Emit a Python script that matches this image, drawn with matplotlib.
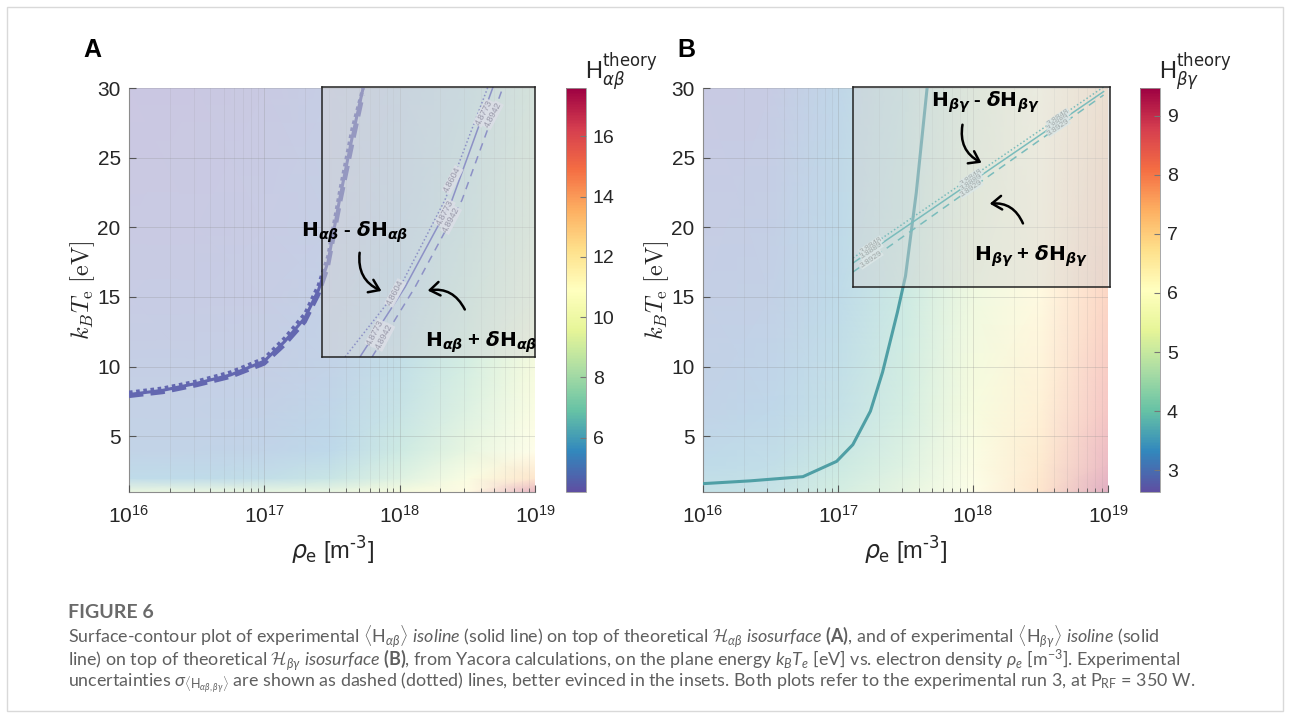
import numpy as np
import matplotlib
matplotlib.use('Agg')
import matplotlib.pyplot as plt
from matplotlib.colors import Normalize, ListedColormap
from matplotlib.cm import ScalarMappable
from matplotlib.patches import Rectangle, FancyArrowPatch

plt.rcParams['font.family'] = ['Liberation Sans', 'DejaVu Sans']
plt.rcParams['mathtext.rm'] = 'Lato'
plt.rcParams['mathtext.it'] = 'Lato:italic'
plt.rcParams['mathtext.bf'] = 'Lato:bold'
plt.rcParams['mathtext.cal'] = 'cmsy10'

# ---------------- data ----------------
# theoretical surfaces on a coarse grid: columns = log10(rho_e), rows = k_B T_e [eV]
log_ne = [16.0, 16.5, 17.0, 17.5, 18.0, 18.5, 19.0]

te_a = [1, 2, 4, 7, 10, 15, 20, 30]
h_ab = [
    [8.8, 8.6, 8.5, 8.6, 9.5, 11.5, 17.0],
    [5.7, 5.7, 5.9, 6.4, 7.9, 10.0, 13.5],
    [5.1, 5.1, 5.2, 5.6, 6.8, 8.5, 11.0],
    [4.95, 4.95, 5.0, 5.3, 6.3, 7.8, 10.0],
    [4.8, 4.82, 4.88, 5.1, 6.0, 7.3, 9.5],
    [4.6, 4.65, 4.7, 4.95, 5.6, 6.8, 8.5],
    [4.45, 4.5, 4.6, 4.88, 5.4, 6.4, 8.0],
    [4.3, 4.35, 4.45, 4.75, 5.2, 6.0, 7.3],
]
te_b = [1, 3, 7, 15, 30]
h_bg = [
    [3.6, 3.7, 4.2, 4.8, 5.9, 7.4, 9.4],
    [3.4, 3.5, 3.9, 4.5, 5.7, 7.2, 9.0],
    [3.1, 3.25, 3.6, 4.2, 5.4, 6.9, 8.5],
    [2.95, 3.05, 3.4, 3.95, 5.1, 6.5, 7.9],
    [2.75, 2.85, 3.2, 3.8, 4.8, 6.0, 7.3],
]
cbar_a = (4.2, 17.6)
cbar_b = (2.63, 9.47)
cticks_a = [6, 8, 10, 12, 14, 16]
cticks_b = [3, 4, 5, 6, 7, 8, 9]

# experimental isolines (log10 rho_e, T_e)
iso_a_x = [16.0, 16.25, 16.5, 16.75, 17.0, 17.15, 17.3, 17.4, 17.47, 17.56, 17.65, 17.73]
iso_a_t = [8.0, 8.3, 8.8, 9.4, 10.4, 11.8, 13.5, 15.5, 17.5, 22.2, 26.5, 30.0]
iso_a_lo_t = [8.15, 8.45, 8.95, 9.6, 10.6, 12.05, 13.8, 15.85, 17.9, 22.7, 27.1, 30.0]
iso_a_hi_t = [7.87, 8.15, 8.65, 9.25, 10.2, 11.55, 13.2, 15.15, 17.1, 21.7, 25.9, 29.5]

iso_b_x = [16.0, 16.35, 16.74, 16.99, 17.11, 17.24, 17.33, 17.44, 17.5, 17.58, 17.66]
iso_b_t = [1.6, 1.8, 2.1, 3.2, 4.4, 6.8, 9.6, 13.9, 16.5, 22.5, 30.0]

# inset (zoomed) contours, inset-relative coordinates
ins_a_y = [0.0, 0.259, 0.581, 1.0]
ins_a_dot = [0.108, 0.366, 0.577, 0.779]
ins_a_sol = [0.178, 0.390, 0.610, 0.803]
ins_a_das = [0.235, 0.437, 0.657, 0.850]
lab_a = ['4.8604', '4.8773', '4.8942']
lab_a_pos = [[(0.344, 0.237), (0.613, 0.656)],
             [(0.251, 0.089), (0.577, 0.533), (0.759, 0.904)],
             [(0.293, 0.074), (0.606, 0.507), (0.802, 0.896)]]

ins_b_x = [0.0, 0.975]
ins_b_dot = [0.145, 1.0]
ins_b_sol = [0.12, 0.977]
ins_b_das = [0.075, 0.96]
lab_b = ['3.8848', '3.8889', '3.8929']
lab_b_x = [0.07, 0.459, 0.798]

W, H = 1290, 717


def fx(x):
    return x / W


def fy(y):
    return 1 - y / H


fig = plt.figure(figsize=(12.9, 7.17), dpi=100)
fig.add_artist(Rectangle((fx(7), fy(711)), fx(1276), 704 / H, transform=fig.transFigure,
                         fill=False, ec='#d9d9d9', lw=1))

cmap = plt.get_cmap('Spectral_r')
# the surfaces are drawn semi-transparent on white: bake that into a pale copy of the map
pale = cmap(np.linspace(0, 1, 256))
pale[:, :3] = pale[:, :3] * 0.32 + 0.68
pale_cmap = ListedColormap(pale)


def setup(ax, width_px):
    ax.set_xscale('log')
    ax.set_xlim(1e16, 1e19)
    ax.set_ylim(1, 30)
    ax.set_yticks([5, 10, 15, 20, 25, 30])
    ax.set_xticks([1e16, 1e17, 1e18, 1e19])
    ax.set_axisbelow(False)
    ax.grid(True, which='major', color='#8c8c8c', alpha=0.3, lw=0.6)
    ax.grid(True, which='minor', axis='x', color='#8c8c8c', alpha=0.18, lw=0.5)
    ax.tick_params(which='both', direction='in', top=False, right=False, colors='#555555',
                   labelcolor='#262626', labelsize=15)
    ax.tick_params(axis='x', which='major', length=5, pad=9)
    ax.tick_params(axis='x', which='minor', length=3)
    ax.tick_params(axis='y', length=5, pad=6)
    for s in ['top', 'right']:
        ax.spines[s].set_visible(False)
    for s in ['left', 'bottom']:
        ax.spines[s].set_color('#8c8c8c')
    ax.set_xlabel(r'$\rho_{\rm e}$ [m$^{‐3}$]', fontsize=17, labelpad=6,
                  math_fontfamily='dejavusans', color='#262626')
    ax.set_ylabel(r'$k_BT_{\rm e}\ [{\rm eV}]$', fontsize=17.5,
                  math_fontfamily='cm', color='#262626')
    ax.yaxis.set_label_coords(-32 / width_px, 0.5)


def panel(rect, crect, te, z, lims, cticks, label, lx, cblab):
    ax = fig.add_axes(rect)
    X, Y = np.meshgrid(10 ** np.array(log_ne), te)
    norm = Normalize(*lims)
    ax.pcolormesh(X, Y, np.array(z), shading='gouraud', cmap=pale_cmap, norm=norm,
                  rasterized=True)
    setup(ax, rect[2] * W)
    cax = fig.add_axes(crect)
    cb = fig.colorbar(ScalarMappable(norm=norm, cmap=cmap), cax=cax, ticks=cticks)
    cb.outline.set_edgecolor('#999999')
    cb.outline.set_linewidth(0.6)
    cax.tick_params(direction='in', length=4, labelsize=14, colors='#777777',
                    labelcolor='#262626', pad=5)
    fig.text(crect[0] + crect[2] - 0.001, fy(72), cblab, fontsize=17, ha='left', va='center',
             math_fontfamily='dejavusans', color='#262626')
    fig.text(fx(lx), fy(50), label, fontsize=18, fontweight='bold', ha='left', va='center')
    return ax


axA = panel([fx(129), fy(492), fx(406), 404 / H], [fx(566), fy(492), fx(20), 404 / H],
            te_a, h_ab, cbar_a, cticks_a, 'A', 83, r'H$^{\rm theory}_{\alpha\beta}$')
axB = panel([fx(703), fy(492), fx(405), 404 / H], [fx(1140), fy(492), fx(20), 404 / H],
            te_b, h_bg, cbar_b, cticks_b, 'B', 677, r'H$^{\rm theory}_{\beta\gamma}$')

col_a = '#6367b0'
col_b = '#4f9fa5'
xa = 10 ** np.array(iso_a_x)
axA.plot(xa, iso_a_lo_t, ls=(0, (1, 1)), color=col_a, lw=2.6, zorder=3)
axA.plot(xa, iso_a_hi_t, ls=(0, (4, 2)), color=col_a, lw=2.6, zorder=3)
axA.plot(xa, iso_a_t, ls='-', color=col_a, lw=2.2, zorder=3)
axB.plot(10 ** np.array(iso_b_x), iso_b_t, color=col_b, lw=2.2, zorder=3)


# insets
def inset(rect):
    ins = fig.add_axes(rect, zorder=5)
    ins.set_facecolor((0.83, 0.83, 0.83, 0.45))
    ins.set_xlim(0, 1)
    ins.set_ylim(0, 1)
    ins.set_xticks([])
    ins.set_yticks([])
    for s in ins.spines.values():
        s.set_color('#222222')
        s.set_linewidth(1.1)
    return ins


insA = inset([fx(322), fy(357), fx(213), 270 / H])
lc_a = '#8d91c6'
insA.plot(ins_a_dot, ins_a_y, ls=(0, (1, 1.5)), color=lc_a, lw=1.1)
insA.plot(ins_a_sol, ins_a_y, ls='-', color=lc_a, lw=1.1)
insA.plot(ins_a_das, ins_a_y, ls=(0, (5, 4)), color=lc_a, lw=1.1)
for txt, pos in zip(lab_a, lab_a_pos):
    for (x, y) in pos:
        insA.text(x, y, txt, fontsize=6.5, color='#9a9aaa', rotation=62, ha='center', va='center',
                  rotation_mode='anchor',
                  bbox=dict(fc=(0.86, 0.87, 0.9), ec='none', pad=0.3, alpha=0.9))

insB = inset([fx(853), fy(287), fx(257), 200 / H])
lc_b = '#7abcbc'
insB.plot(ins_b_x, ins_b_dot, ls=(0, (1, 1.5)), color=lc_b, lw=1.1)
insB.plot(ins_b_x, ins_b_sol, ls='-', color=lc_b, lw=1.1)
insB.plot(ins_b_x, ins_b_das, ls=(0, (5, 4)), color=lc_b, lw=1.1)
for txt, y0, y1 in zip(lab_b, [ins_b_dot[0], ins_b_sol[0], ins_b_das[0]],
                       [ins_b_dot[1], ins_b_sol[1], ins_b_das[1]]):
    for x in lab_b_x:
        y = y0 + (y1 - y0) * x / ins_b_x[1]
        insB.text(x, y, txt, fontsize=6, color='#a0a8a8', rotation=34, ha='center', va='center',
                  rotation_mode='anchor',
                  bbox=dict(fc=(0.86, 0.9, 0.9), ec='none', pad=0.2, alpha=0.9))


# annotations
def note(x, y, s):
    fig.text(fx(x), fy(y), s, fontsize=14.5, fontweight='bold', ha='center', va='center',
             math_fontfamily='dejavusans', zorder=10)


def arrow(x0, y0, x1, y1, rad):
    fig.add_artist(FancyArrowPatch((fx(x0), fy(y0)), (fx(x1), fy(y1)), transform=fig.transFigure,
                                   connectionstyle='arc3,rad=%g' % rad,
                                   arrowstyle='->,head_length=0.5,head_width=0.35',
                                   mutation_scale=14, lw=1.8, color='k', zorder=10))


ab = r'\boldsymbol{\alpha\beta}'
bg = r'\boldsymbol{\beta\gamma}'
note(355, 232, r'$\mathbf{H}_{%s}$ - $\boldsymbol{\delta}\mathbf{H}_{%s}$' % (ab, ab))
note(481, 342, r'$\mathbf{H}_{%s}$ + $\boldsymbol{\delta}\mathbf{H}_{%s}$' % (ab, ab))
note(985, 102, r'$\mathbf{H}_{%s}$ - $\boldsymbol{\delta}\mathbf{H}_{%s}$' % (bg, bg))
note(1031, 256, r'$\mathbf{H}_{%s}$ + $\boldsymbol{\delta}\mathbf{H}_{%s}$' % (bg, bg))
arrow(360, 250, 384, 292, 0.4)
arrow(466, 312, 425, 291, 0.4)
arrow(963, 122, 984, 164, 0.4)
arrow(1024, 226, 987, 204, 0.4)

# caption
cap_col = '#5f5f5f'
fig.text(fx(68), fy(612), 'FIGURE 6', fontsize=14, fontweight='bold', color='#6a6a6a',
         family=['Lato', 'DejaVu Sans'], ha='left', va='center')
cap = [
    r'Surface-contour plot of experimental $\langle\mathrm{H}_{\alpha\beta}\rangle$ $\mathit{isoline}$ (solid line) '
    r'on top of theoretical $\mathcal{H}_{\alpha\beta}$ $\mathit{isosurface}$ $\mathbf{(A)}$, and of experimental '
    r'$\langle\mathrm{H}_{\beta\gamma}\rangle$ $\mathit{isoline}$ (solid',
    r'line) on top of theoretical $\mathcal{H}_{\beta\gamma}$ $\mathit{isosurface}$ $\mathbf{(B)}$, from Yacora '
    r'calculations, on the plane energy $k_BT_e$ [eV] vs. electron density $\rho_e$ [m$^{-3}$]. Experimental',
    r'uncertainties $\sigma_{\langle\mathrm{H}_{\alpha\beta,\beta\gamma}\rangle}$ are shown as dashed (dotted) '
    r'lines, better evinced in the insets. Both plots refer to the experimental run 3, at P$_{\mathrm{RF}}$ = 350 W.',
]
for i, line in enumerate(cap):
    fig.text(fx(68), fy(637 + 23 * i), line, fontsize=12.9, color=cap_col,
             family=['Lato', 'DejaVu Sans'], math_fontfamily='custom', ha='left', va='center')

fig.savefig('out.png', dpi=100)
